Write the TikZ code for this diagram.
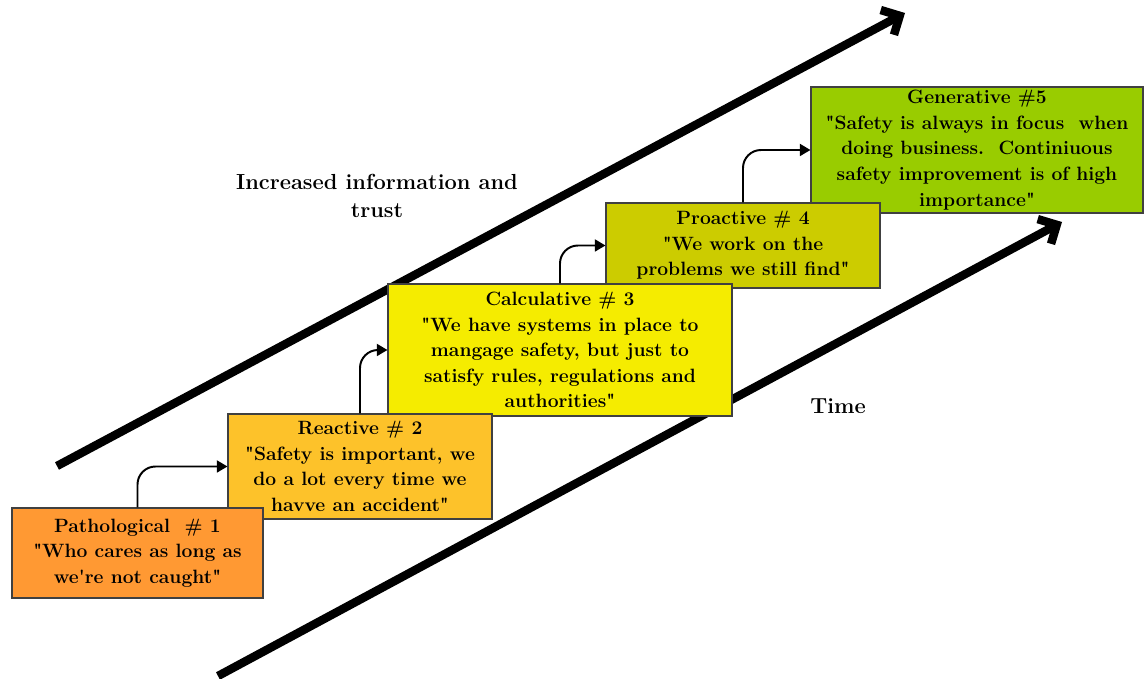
\documentclass[tikz,border=0pt]{standalone}
\definecolor{stage_orange}{RGB}{255, 153, 51}
\definecolor{stage_amber}{RGB}{253, 194, 42}
\definecolor{stage_yellow}{RGB}{245, 236, 0}
\definecolor{stage_olive}{RGB}{204, 204, 0}
\definecolor{stage_green}{RGB}{153, 204, 0}
\usepackage{tikz}
\usetikzlibrary{arrows.meta, positioning}

\begin{document}
\begin{tikzpicture}[
    stagebox/.style={draw=black!75, line width=0.8pt, align=center, inner sep=2pt,
      font=\fontsize{13.7}{18.2}\selectfont\bfseries, text=black},
    stepline/.style={-{Triangle[length=7.5pt,width=8.5pt]}, line width=1.4pt, rounded corners=0.45cm},
    trend/.style={-{Straight Barb[length=10pt,width=20pt]}, line width=6pt},
    note/.style={align=center, font=\fontsize{15.5}{20}\selectfont\bfseries, text=black}
  ]
  \useasboundingbox (0,0) rectangle (28.6,16.975);

  % --- Trend arrows (behind the boxes) ---
  \coordinate (info_start) at (1.425,5.325);
  \coordinate (info_end) at (22.625,16.65);
  \coordinate (time_start) at (5.45,0.075);
  \coordinate (time_end) at (26.55,11.425);
  \draw[trend] (info_start) -- (info_end);
  \draw[trend] (time_start) -- (time_end);

  \node[note] (info) at (9.425,12.075) {Increased information and\\trust};
  \node[note] (time) at (20.95,6.825) {Time};

  % --- Stages, top one first so the lower ones lie over it ---
  \node[stagebox, fill=stage_green, minimum width=8.3cm, minimum height=3.15cm] (s5) at (24.425,13.225)
    {Generative \#5\\\textquotedbl Safety is always in focus\ \ when\\doing business.\ \ Continiuous\\safety improvement is of high\\importance\textquotedbl};
  \node[stagebox, fill=stage_olive, minimum width=6.85cm, minimum height=2.125cm] (s4) at (18.575,10.8375)
    {Proactive \# 4\\\textquotedbl We work on the\\problems we still find\textquotedbl};
  \node[stagebox, fill=stage_yellow, minimum width=8.6cm, minimum height=3.3cm] (s3) at (14.0,8.225)
    {Calculative \# 3\\\textquotedbl We have systems in place to\\mangage safety, but just to\\satisfy rules, regulations and\\authorities\textquotedbl};
  \node[stagebox, fill=stage_amber, minimum width=6.6cm, minimum height=2.625cm] (s2) at (9.0,5.3125)
    {Reactive \# 2\\\textquotedbl Safety is important, we\\do a lot every time we\\havve an accident\textquotedbl};
  \node[stagebox, fill=stage_orange, minimum width=6.275cm, minimum height=2.25cm] (s1) at (3.4375,3.15)
    {Pathological\ \ \# 1\\\textquotedbl Who cares as long as\\we\textquotesingle re not caught\textquotedbl};

  % --- Steps ---
  \draw[stepline] (s1.north) |- (s2.west);
  \draw[stepline] (s2.north) |- (s3.west);
  \draw[stepline] (s3.north) |- (s4.west);
  \draw[stepline] (s4.north) |- (s5.west);
\end{tikzpicture}
\end{document}
